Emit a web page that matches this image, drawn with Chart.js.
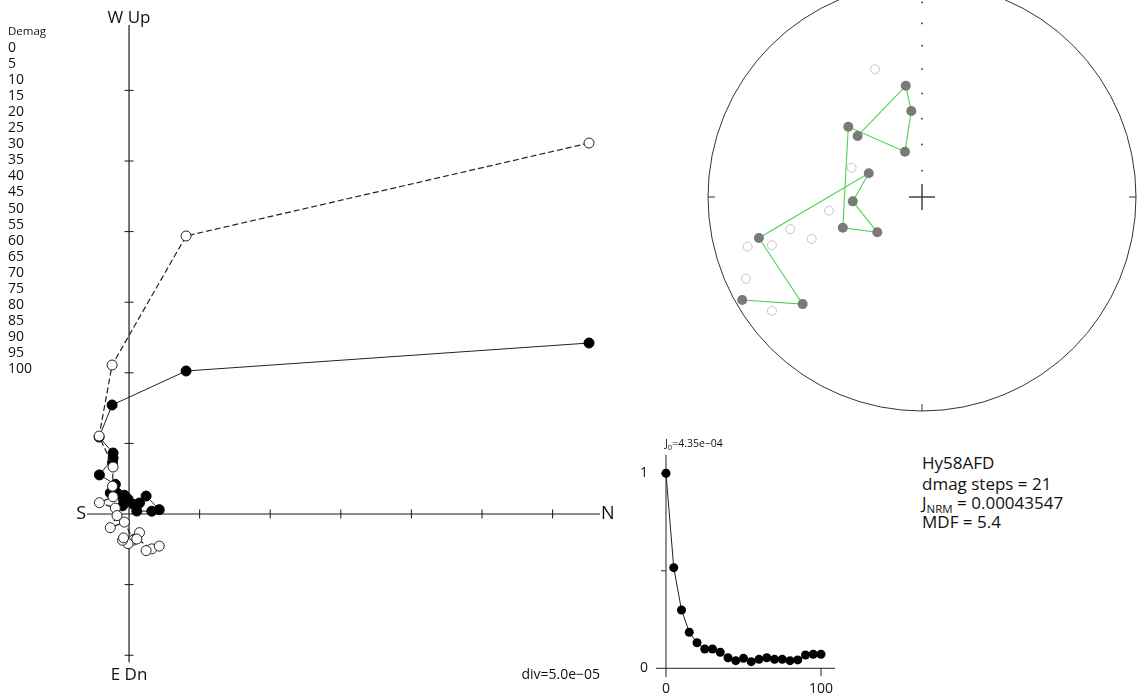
<!DOCTYPE html>
<html><head><meta charset="utf-8">
<script src="https://cdn.jsdelivr.net/npm/chart.js@4.4.1/dist/chart.umd.min.js"></script>
<style>
html,body{margin:0;padding:0;background:#fff;width:1141px;height:700px;overflow:hidden;font-family:"Open Sans",sans-serif;color:#111;}
canvas{position:absolute;}
.t{position:absolute;white-space:nowrap;}
</style></head><body>
<canvas id="zij" width="640" height="700" style="left:0;top:0"></canvas>
<canvas id="ster" width="444" height="444" style="left:700px;top:-25px"></canvas>
<canvas id="jint" width="260" height="280" style="left:600px;top:420px"></canvas>
<div id="labels"></div>
<script>
// ---------- data ----------
const steps = [0,5,10,15,20,25,30,35,40,45,50,55,60,65,70,75,80,85,90,95,100];
// Zijderveld components (units of 1e-5)
const zN  = [32.58, 4.04, -1.20, -2.12, -1.13, -1.17, -1.13, -2.10, -0.97, -0.85, -1.33, -0.33, 0.31, -0.07, -0.46, -0.39, 0.74, 0.55, 1.61, 2.14, 1.21];
const zW  = [12.11, 10.13, 7.72, 5.45, 4.32, 3.65, 3.97, 2.77, 2.10, 1.48, 1.49, 1.33, 0.69, 1.05, 0.58, 1.01, 0.78, 0.21, 0.20, 0.31, 1.27];
const zUp = [26.27, 19.69, 10.55, 5.52, 3.33, 1.97, 1.22, 0.80, 0.42, -0.11, -0.97, -0.57, -1.85, -2.10, -1.86, -1.69, -1.32, -1.77, -2.47, -2.27, -2.59];
const zXTicks = [5,10,15,20,25,30];
const zYTicks = [-10,-5,5,10,15,20,25,30];
// Equal-area stereonet directions (degrees), negative inclination = upper hemisphere
const stDec = [339.8, 292.6, 261.6, 249.2, 256.3, 252.2, 254.1, 232.8, 245.1, 240.2, 228.1, 255.9, 294.0, 266.4, 231.7, 248.8, 313.6, 339.4, 352.9, 351.7, 313.5];
const stInc = [-36.5, -60.8, -53.8, -44.1, -36.8, -27.2, -16.4, -13.0, -10.2, 3.6, 26.0, 22.5, 67.8, 63.5, 68.3, 57.4, 50.7, 71.6, 56.7, 46.4, 55.9];
const incTicks = [10,20,30,40,50,60,70,80];
// Intensity decay J/J0
const jRel = [1.0, 0.516, 0.299, 0.185, 0.131, 0.099, 0.099, 0.082, 0.054, 0.039, 0.051, 0.034, 0.046, 0.054, 0.046, 0.046, 0.039, 0.043, 0.068, 0.072, 0.072];
const jYTicks = [0.5, 1];
const jXTickLabels = [0, 100];
const jYTickLabels = [0, 1];
// text
const sampleName = 'Hy58AFD';
const dmagSteps = 21;
const jNRM = '0.00043547';
const mdf = '5.4';
const j0Text = '=4.35e\u221204';
const divText = 'div=5.0e\u221205';

// ---------- html text ----------
const L = document.getElementById('labels');
function addText(html, left, top, size, lh){
  const d = document.createElement('div');
  d.className='t'; d.innerHTML = html;
  d.style.left = left+'px'; d.style.top = top+'px'; d.style.fontSize = size+'px';
  d.style.lineHeight = (lh||20)+'px';
  L.appendChild(d);
}
addText('Demag', 8, 20.7, 11.5);
steps.forEach((s,i)=>addText(String(s), 8, 36.7 + i*16.08, 14));
addText(sampleName, 922, 453, 17);
addText('dmag steps = '+dmagSteps, 922, 473.5, 17);
addText('J<span style="font-size:11.5px;position:relative;top:4px">NRM</span> = '+jNRM, 922, 493, 17);
addText('MDF = '+mdf, 922, 512, 17);
addText('J<span style="font-size:7.5px;position:relative;top:2.5px">0</span>'+j0Text, 665, 433, 10.5);

const common = {responsive:false, animation:false, events:[], layout:{padding:0, autoPadding:false},
  plugins:{legend:{display:false}, tooltip:{enabled:false}}};

// ---------- Zijderveld ----------
const Z_AX = {xMin:-2.97, xMax:33.36, yMin:-10.5, yMax:34.63};
const zijAxes = {
  id:'zijAxes',
  beforeDatasetsDraw(chart){
    const {ctx, scales:{x,y}} = chart;
    const X = v=>x.getPixelForValue(v), Y = v=>y.getPixelForValue(v);
    ctx.save();
    ctx.strokeStyle='#1a1a1a'; ctx.lineWidth=1.2;
    ctx.beginPath();
    ctx.moveTo(X(Z_AX.xMin), Y(0)); ctx.lineTo(X(Z_AX.xMax), Y(0));
    ctx.moveTo(X(0), Y(Z_AX.yMin)); ctx.lineTo(X(0), Y(Z_AX.yMax));
    ctx.stroke();
    ctx.lineWidth=1;
    ctx.beginPath();
    zXTicks.forEach(t=>{ctx.moveTo(X(t), Y(0)-4.5); ctx.lineTo(X(t), Y(0)+4.5);});
    zYTicks.forEach(t=>{ctx.moveTo(X(0)-4.5, Y(t)); ctx.lineTo(X(0)+4.5, Y(t));});
    ctx.stroke();
    ctx.fillStyle='#111'; ctx.font='18px "Open Sans"'; ctx.textBaseline='middle';
    ctx.textAlign='right'; ctx.fillText('S', X(Z_AX.xMin)-1, Y(0));
    ctx.textAlign='left'; ctx.fillText('N', X(Z_AX.xMax)+1, Y(0));
    ctx.font='17px "Open Sans"';
    ctx.textAlign='center'; ctx.fillText('W Up', X(0), Y(Z_AX.yMax)-7);
    ctx.fillText('E Dn', X(0), Y(Z_AX.yMin)+13);
    ctx.font='14px "Open Sans"'; ctx.textAlign='right';
    ctx.fillText(divText, X(Z_AX.xMax), Y(Z_AX.yMin)+13);
    ctx.restore();
  }
};
new Chart(document.getElementById('zij'), {
  type:'scatter',
  data:{datasets:[
    {label:'N-Up', data: steps.map((s,i)=>({x:zN[i], y:zUp[i]})), showLine:true,
     borderColor:'#222', borderWidth:1.2, borderDash:[6,3], pointRadius:5,
     pointBackgroundColor:'#fff', pointBorderColor:'#222', pointBorderWidth:1, order:0},
    {label:'N-W', data: steps.map((s,i)=>({x:zN[i], y:zW[i]})), showLine:true,
     borderColor:'#222', borderWidth:1, pointRadius:5,
     pointBackgroundColor:'#000', pointBorderColor:'#000', pointBorderWidth:1, order:1}
  ]},
  options:Object.assign({}, common, {scales:{
    x:{type:'linear', display:false, bounds:'data', min:-9.14, max:36.19},
    y:{type:'linear', display:false, bounds:'data', min:-13.17, max:36.40}}}),
  plugins:[zijAxes]
});

// ---------- Stereonet ----------
const eqArea = (dec, inc) => {
  const r = Math.SQRT2*Math.sin((90-Math.abs(inc))*Math.PI/360);
  const d = dec*Math.PI/180;
  return {x:r*Math.sin(d), y:r*Math.cos(d)};
};
const upperPts = [], lowerPts = [];
steps.forEach((s,i)=>{ (stInc[i]<0 ? upperPts : lowerPts).push(eqArea(stDec[i], stInc[i])); });
const netFrame = {
  id:'netFrame',
  beforeDatasetsDraw(chart){
    const {ctx, scales:{x,y}} = chart;
    const cx = x.getPixelForValue(0), cy = y.getPixelForValue(0);
    const R = x.getPixelForValue(1)-cx;
    ctx.save();
    ctx.strokeStyle='#333'; ctx.lineWidth=1;
    ctx.beginPath(); ctx.arc(cx, cy, R, 0, Math.PI*2); ctx.stroke();
    ctx.beginPath();
    ctx.moveTo(cx-R, cy); ctx.lineTo(cx-R+7, cy);
    ctx.moveTo(cx+R, cy); ctx.lineTo(cx+R-7, cy);
    ctx.moveTo(cx, cy+R); ctx.lineTo(cx, cy+R-7);
    ctx.moveTo(cx, cy-R); ctx.lineTo(cx, cy-R+7);
    ctx.stroke();
    ctx.strokeStyle='#444'; ctx.lineWidth=1.5;
    ctx.beginPath();
    ctx.moveTo(cx-13, cy); ctx.lineTo(cx+13, cy);
    ctx.moveTo(cx, cy-13); ctx.lineTo(cx, cy+13);
    ctx.stroke();
    ctx.fillStyle='#555';
    incTicks.forEach(I=>{ const p = eqArea(0, I); ctx.fillRect(cx-1, y.getPixelForValue(p.y)-0.75, 2, 1.5); });
    ctx.restore();
  }
};
new Chart(document.getElementById('ster'), {
  type:'scatter',
  data:{datasets:[
    {label:'lower', data: lowerPts, showLine:true, borderColor:'#4fd34f', borderWidth:1.1,
     pointRadius:5, pointBackgroundColor:'#7a7a7a', pointBorderColor:'#7a7a7a', pointBorderWidth:0, order:0},
    {label:'upper', data: upperPts, showLine:false, pointRadius:4.5,
     pointBackgroundColor:'#fff', pointBorderColor:'#c4c4c4', pointBorderWidth:1, order:1}
  ]},
  options:Object.assign({}, common, {layout:{padding:8, autoPadding:false}, scales:{
    x:{type:'linear', display:false, bounds:'data', min:-1, max:1},
    y:{type:'linear', display:false, bounds:'data', min:-1, max:1}}}),
  plugins:[netFrame]
});

// ---------- Intensity ----------
const jAxes = {
  id:'jAxes',
  beforeDatasetsDraw(chart){
    const {ctx, scales:{x,y}} = chart;
    const X = v=>x.getPixelForValue(v), Y = v=>y.getPixelForValue(v);
    ctx.save();
    ctx.strokeStyle='#222'; ctx.lineWidth=1;
    ctx.beginPath();
    ctx.moveTo(X(0)-10, Y(0)); ctx.lineTo(X(109), Y(0));
    ctx.moveTo(X(0), Y(0)+9); ctx.lineTo(X(0), Y(1.095));
    jYTicks.forEach(t=>{ctx.moveTo(X(0)-5, Y(t)); ctx.lineTo(X(0), Y(t));});
    ctx.moveTo(X(100), Y(0)); ctx.lineTo(X(100), Y(0)+8);
    ctx.stroke();
    ctx.fillStyle='#111'; ctx.font='14px "Open Sans"';
    ctx.textAlign='right'; ctx.textBaseline='middle';
    jYTickLabels.forEach(t=>ctx.fillText(String(t), X(0)-18, Y(t)));
    ctx.textAlign='center';
    jXTickLabels.forEach(t=>ctx.fillText(String(t), X(t), Y(0)+21));
    ctx.restore();
  }
};
new Chart(document.getElementById('jint'), {
  type:'scatter',
  data:{datasets:[
    {label:'J/J0', data: steps.map((s,i)=>({x:s, y:jRel[i]})), showLine:true,
     borderColor:'#222', borderWidth:1, pointRadius:4.5,
     pointBackgroundColor:'#000', pointBorderColor:'#000', pointBorderWidth:0}
  ]},
  options:Object.assign({}, common, {scales:{
    x:{type:'linear', display:false, bounds:'data', min:-42.58, max:125.16},
    y:{type:'linear', display:false, bounds:'data', min:-0.1626, max:1.2733}}}),
  plugins:[jAxes]
});
</script>
</body></html>
